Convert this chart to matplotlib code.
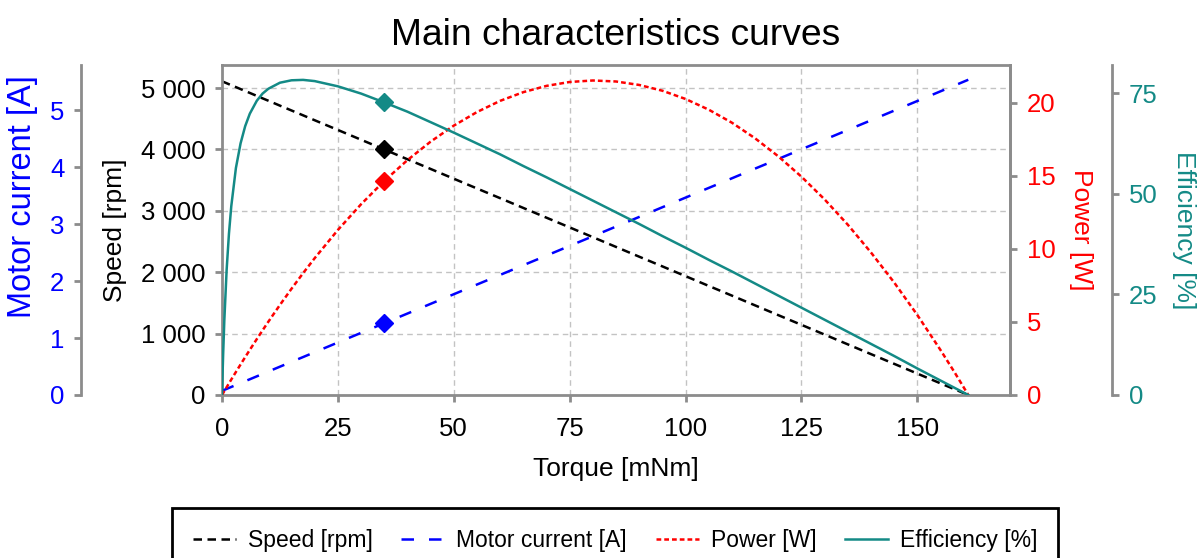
import matplotlib
matplotlib.use("Agg")
import matplotlib.pyplot as plt
from matplotlib.ticker import FuncFormatter

plt.rcParams['font.family'] = ['Liberation Sans', 'DejaVu Sans']

# ---- data ----
torque = [0, 0.1, 0.25, 0.5, 1, 1.5, 2, 3, 4, 5, 6, 7.5, 8.75, 10, 12.5, 15, 17.5, 20,
          25, 30, 35, 40, 45, 50, 55, 60, 65, 70, 75, 80, 85, 90, 95, 100, 105, 110,
          115, 120, 125, 130, 135, 140, 145, 150, 155, 158, 160, 161]
speed = [5110, 5107, 5102, 5094, 5078, 5062, 5047, 5015, 4983, 4951, 4920, 4872, 4832,
         4793, 4713, 4634, 4555, 4475, 4317, 4158, 3999, 3840, 3682, 3523, 3364, 3206,
         3047, 2888, 2730, 2571, 2412, 2253, 2095, 1936, 1777, 1619, 1460, 1301, 1143,
         984, 825, 666, 508, 349, 190, 95, 32, 0]
current = [0.073, 0.076, 0.082, 0.090, 0.107, 0.124, 0.141, 0.175, 0.209, 0.243, 0.276,
           0.327, 0.370, 0.412, 0.497, 0.582, 0.666, 0.751, 0.921, 1.090, 1.260, 1.429,
           1.599, 1.768, 1.938, 2.107, 2.277, 2.446, 2.616, 2.785, 2.955, 3.124, 3.294,
           3.463, 3.633, 3.802, 3.972, 4.141, 4.311, 4.480, 4.650, 4.819, 4.989, 5.158,
           5.328, 5.429, 5.497, 5.531]
power = [0, 0.053, 0.134, 0.267, 0.532, 0.795, 1.057, 1.576, 2.087, 2.593, 3.091, 3.826,
         4.428, 5.019, 6.170, 7.279, 8.347, 9.373, 11.302, 13.063, 14.657, 16.085, 17.350,
         18.446, 19.377, 20.144, 20.740, 21.170, 21.437, 21.539, 21.471, 21.234, 20.839,
         20.274, 19.542, 18.650, 17.581, 16.349, 14.955, 13.396, 11.665, 9.764, 7.709,
         5.482, 3.084, 1.574, 0.529, 0]
efficiency = [0, 4.4, 10.2, 18.5, 31.1, 40.1, 46.9, 56.4, 62.5, 66.8, 69.9, 73.1, 74.9,
              76.1, 77.6, 78.2, 78.3, 78.0, 76.7, 74.9, 72.7, 70.4, 67.8, 65.2, 62.5,
              59.8, 56.9, 54.1, 51.2, 48.3, 45.4, 42.5, 39.5, 36.6, 33.6, 30.7, 27.7,
              24.7, 21.7, 18.7, 15.7, 12.7, 9.7, 6.6, 3.6, 1.8, 0.6, 0]

op_torque = 35
op_speed = 4000
op_current = 1.26
op_power = 14.66
op_efficiency = 72.7

speed_ticks = [0, 1000, 2000, 3000, 4000, 5000]
current_ticks = [0, 1, 2, 3, 4, 5]
power_ticks = [0, 5, 10, 15, 20]
eff_ticks = [0, 25, 50, 75]
torque_ticks = [0, 25, 50, 75, 100, 125, 150]

GRAY = '#8c8c8c'
TEAL = '#148a86'
BLUE = '#0000ff'
RED = '#ff0000'
TFS = 18.5   # tick labels
LFS = 19     # axis labels
SPW = 2.0    # spine width
TL = 5       # tick length
LW = 1.8

fig = plt.figure(figsize=(12.04, 5.58), dpi=100)
ax = fig.add_axes([222/1204, 1-395/558, (1010-222)/1204, (395-65)/558])

ax_cur = ax.twinx()
ax_pow = ax.twinx()
ax_eff = ax.twinx()

# main: speed
l_speed, = ax.plot(torque, speed, color='black', ls=(0, (3.4, 2.2)), lw=LW)
ax.plot([op_torque], [op_speed], marker='D', color='black', ms=9.5, ls='none')
ax.set_xlim(0, 170)
ax.set_ylim(0, 5375)
ax.set_xticks(torque_ticks)
ax.set_yticks(speed_ticks)
ax.yaxis.set_major_formatter(FuncFormatter(lambda v, p: f"{int(v):,}".replace(',', ' ')))
ax.grid(True, color='#c3c3c3', ls=(0, (4, 3)), lw=1.0)
ax.set_axisbelow(True)
ax.set_xlabel('Torque [mNm]', fontsize=LFS, labelpad=12)
ax.set_ylabel('Speed [rpm]', fontsize=LFS, labelpad=10)
ax.set_title('Main characteristics curves', fontsize=26.8, pad=14.4)
for s in ax.spines.values():
    s.set_color(GRAY)
    s.set_linewidth(SPW)
ax.tick_params(axis='both', colors=GRAY, labelcolor='black', labelsize=TFS,
               width=SPW, length=TL, direction='out')
ax.tick_params(axis='x', pad=10.5)
ax.tick_params(axis='y', pad=7)

# current axis on far left
l_cur, = ax_cur.plot(torque, current, color=BLUE, ls=(0, (5.0, 6.0)), lw=LW)
ax_cur.plot([op_torque], [op_current], marker='D', color=BLUE, ms=9.5, ls='none')
ax_cur.set_ylim(0, 5.79)
ax_cur.set_yticks(current_ticks)
ax_cur.yaxis.set_ticks_position('left')
ax_cur.yaxis.set_label_position('left')
for k, s in ax_cur.spines.items():
    s.set_visible(k == 'left')
ax_cur.spines['left'].set_position(('outward', 101.5))
ax_cur.spines['left'].set_color(GRAY)
ax_cur.spines['left'].set_linewidth(SPW)
ax_cur.tick_params(axis='y', colors=GRAY, labelcolor=BLUE, labelsize=TFS,
                   width=SPW, length=TL, pad=7)
ax_cur.set_ylabel('Motor current [A]', fontsize=23.5, color=BLUE, labelpad=6)
ax_cur.yaxis.set_label_coords(-0.234, 0.60)

# power axis
l_pow, = ax_pow.plot(torque, power, color=RED, ls=(0, (1.9, 1.2)), lw=LW)
ax_pow.plot([op_torque], [op_power], marker='D', color=RED, ms=9.5, ls='none')
ax_pow.set_ylim(0, 22.6)
ax_pow.set_yticks(power_ticks)
for k, s in ax_pow.spines.items():
    s.set_visible(k == 'right')
ax_pow.spines['right'].set_color(GRAY)
ax_pow.spines['right'].set_linewidth(SPW)
ax_pow.tick_params(axis='y', colors=GRAY, labelcolor=RED, labelsize=TFS,
                   width=SPW, length=TL, pad=7)
ax_pow.set_ylabel('Power [W]', fontsize=LFS, color=RED, rotation=270, labelpad=27)

# efficiency axis
l_eff, = ax_eff.plot(torque, efficiency, color=TEAL, ls='-', lw=LW)
ax_eff.plot([op_torque], [op_efficiency], marker='D', color=TEAL, ms=9.5, ls='none')
ax_eff.set_ylim(0, 82.0)
ax_eff.set_yticks(eff_ticks)
for k, s in ax_eff.spines.items():
    s.set_visible(k == 'right')
ax_eff.spines['right'].set_position(('outward', 73.4))
ax_eff.spines['right'].set_color(GRAY)
ax_eff.spines['right'].set_linewidth(SPW)
ax_eff.tick_params(axis='y', colors=GRAY, labelcolor=TEAL, labelsize=TFS,
                   width=SPW, length=TL, pad=7)
ax_eff.set_ylabel('Efficiency [%]', fontsize=LFS, color=TEAL, rotation=270, labelpad=28)

leg = fig.legend([l_speed, l_cur, l_pow, l_eff],
                 ['Speed [rpm]', 'Motor current [A]', 'Power [W]', 'Efficiency [%]'],
                 loc='upper center', bbox_to_anchor=(615/1204, 1-508/558), ncol=4,
                 fontsize=16.5, frameon=True, fancybox=False, framealpha=1,
                 edgecolor='black', handlelength=1.9, columnspacing=1.25,
                 handletextpad=0.5, borderpad=0.9, borderaxespad=0)
leg.get_frame().set_linewidth(2.0)

fig.savefig('out.png', dpi=100)
